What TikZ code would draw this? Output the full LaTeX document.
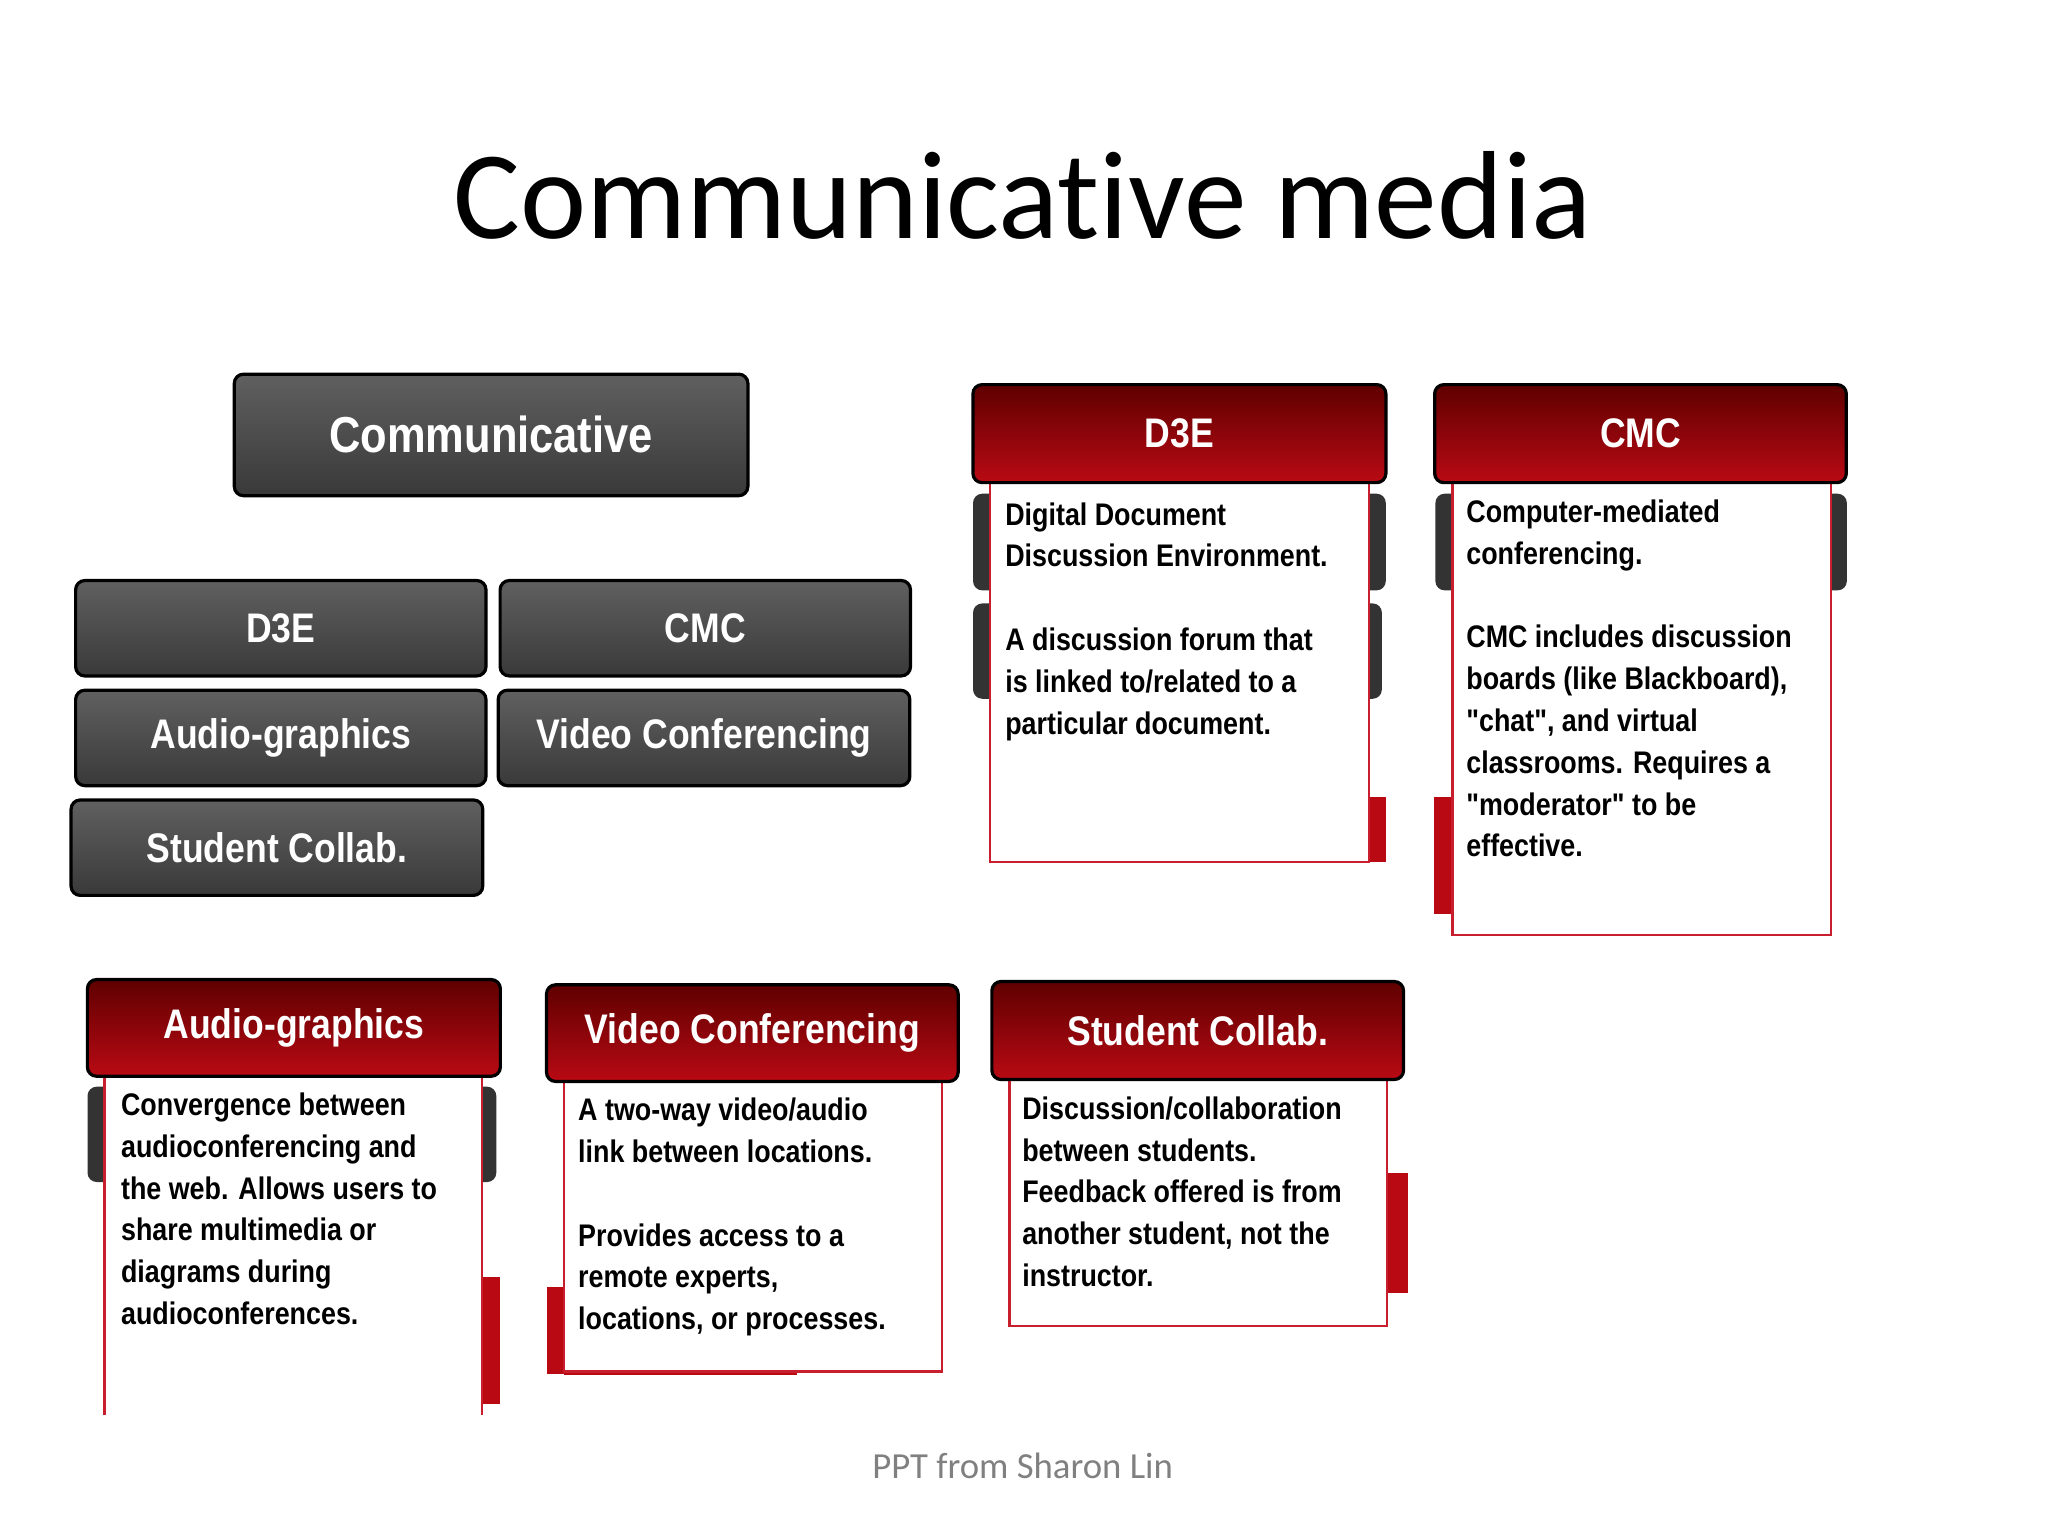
\documentclass[tikz,border=0pt]{standalone}
\usepackage{fontspec}
\setmainfont[Ligatures=NoCommon]{Carlito}
\newfontfamily\nar[FakeStretch=0.86]{Liberation Sans}
\definecolor{dkred}{RGB}{95,0,0}
\definecolor{brred}{RGB}{185,10,20}
\definecolor{bord}{RGB}{200,30,45}
\tikzset{
 gbtn/.style={draw=black,line width=0.7pt,rounded corners=2pt,top color=gray!75!black,bottom color=gray!45!black,text=white,font=\nar\bfseries},
 rhead/.style={draw=black,line width=0.7pt,rounded corners=2pt,top color=dkred,bottom color=brred,text=white,font=\nar\bfseries},
 rbody/.style={draw=bord,line width=0.5pt,fill=white},
 btxt/.style={anchor=north west,align=left,font=\nar\bfseries\fontsize{6.8}{9.1}\selectfont,inner sep=0pt}
}
\begin{document}
\begin{tikzpicture}[x=0.01cm,y=-0.01cm]
\useasboundingbox (0,0) rectangle (1568,1176);
\node (title) at (783,150) {\fontsize{27.3}{32}\selectfont Communicative media};
% left buttons
\node[gbtn,minimum width=3.93cm,minimum height=0.93cm,font=\nar\bfseries\fontsize{11}{13}\selectfont] (comm) at (376,333) {Communicative};
\node[gbtn,minimum width=3.14cm,minimum height=0.73cm,font=\nar\bfseries\fontsize{9}{11}\selectfont] (bd3e) at (215,481) {D3E};
\node[gbtn,minimum width=3.14cm,minimum height=0.73cm,font=\nar\bfseries\fontsize{9}{11}\selectfont] (bcmc) at (540,481) {CMC};
\node[gbtn,minimum width=3.14cm,minimum height=0.73cm,font=\nar\bfseries\fontsize{9}{11}\selectfont] (baud) at (215,565) {Audio-graphics};
\node[gbtn,minimum width=3.15cm,minimum height=0.73cm,font=\nar\bfseries\fontsize{9}{11}\selectfont] (bvid) at (539,565) {Video Conferencing};
\node[gbtn,minimum width=3.15cm,minimum height=0.73cm,font=\nar\bfseries\fontsize{9}{11}\selectfont] (bstu) at (212,649) {Student Collab.};
% D3E card
\fill[gray!40!black,rounded corners=2pt] (745,378) rectangle (1061,452);
\fill[gray!40!black,rounded corners=2pt] (745,462) rectangle (1058,535);
\fill[brred] (1048,610) rectangle (1061,660);
\draw[rbody] (758,368) rectangle (1048,660);
\node[rhead,minimum width=3.16cm,minimum height=0.75cm,font=\nar\bfseries\fontsize{9}{11}\selectfont] (hd3e) at (903,332) {D3E};
\node[btxt] (td3e) at (769,384) {Digital Document\\Discussion Environment.\\[9.1pt]A discussion forum that\\is linked to/related to a\\particular document.};
% CMC card
\fill[gray!40!black,rounded corners=2pt] (1099,378) rectangle (1414,452);
\fill[brred] (1098,610) rectangle (1112,700);
\draw[rbody] (1112,368) rectangle (1402,716);
\node[rhead,minimum width=3.15cm,minimum height=0.75cm,font=\nar\bfseries\fontsize{9}{11}\selectfont] (hcmc) at (1256,332) {CMC};
\node[btxt] (tcmc) at (1122,382) {Computer-mediated\\conferencing.\\[9.1pt]CMC includes discussion\\boards (like Blackboard),\\"chat", and virtual\\classrooms.  Requires a\\"moderator" to be\\effective.};
% Audio-graphics card
\fill[gray!40!black,rounded corners=2pt] (67,832) rectangle (380,905);
\fill[brred] (369,978) rectangle (383,1075);
\draw[rbody] (80,1083) -- (80,822) -- (369,822) -- (369,1083);
\node[rhead,minimum width=3.16cm,minimum height=0.74cm,font=\nar\bfseries\fontsize{9}{11}\selectfont] (haud) at (225,787) {Audio-graphics};
\node[btxt] (taud) at (92,836) {Convergence between\\audioconferencing and\\the web.  Allows users to\\share multimedia or\\diagrams during\\audioconferences.};
% Video card
\fill[brred] (419,985) rectangle (432,1052);
\fill[brred] (432,1040) rectangle (610,1053);
\draw[rbody] (432,826) rectangle (721,1050);
\node[rhead,minimum width=3.15cm,minimum height=0.74cm,font=\nar\bfseries\fontsize{9}{11}\selectfont] (hvid) at (576,791) {Video Conferencing};
\node[btxt] (tvid) at (442,840) {A two-way video/audio\\link between locations.\\[9.1pt]Provides access to a\\remote experts,\\locations, or processes.};
% Student card
\fill[brred] (1062,898) rectangle (1078,990);
\draw[rbody] (773,825) rectangle (1062,1015);
\node[rhead,minimum width=3.15cm,minimum height=0.75cm,font=\nar\bfseries\fontsize{9}{11}\selectfont] (hstu) at (917,789) {Student Collab.};
\node[btxt] (tstu) at (782,839) {Discussion/collaboration\\between students.\\Feedback offered is from\\another student, not the\\instructor.};
\node[text=gray,font=\fontsize{8}{10}\selectfont] (foot) at (783,1122) {PPT from Sharon Lin};
\end{tikzpicture}
\end{document}
